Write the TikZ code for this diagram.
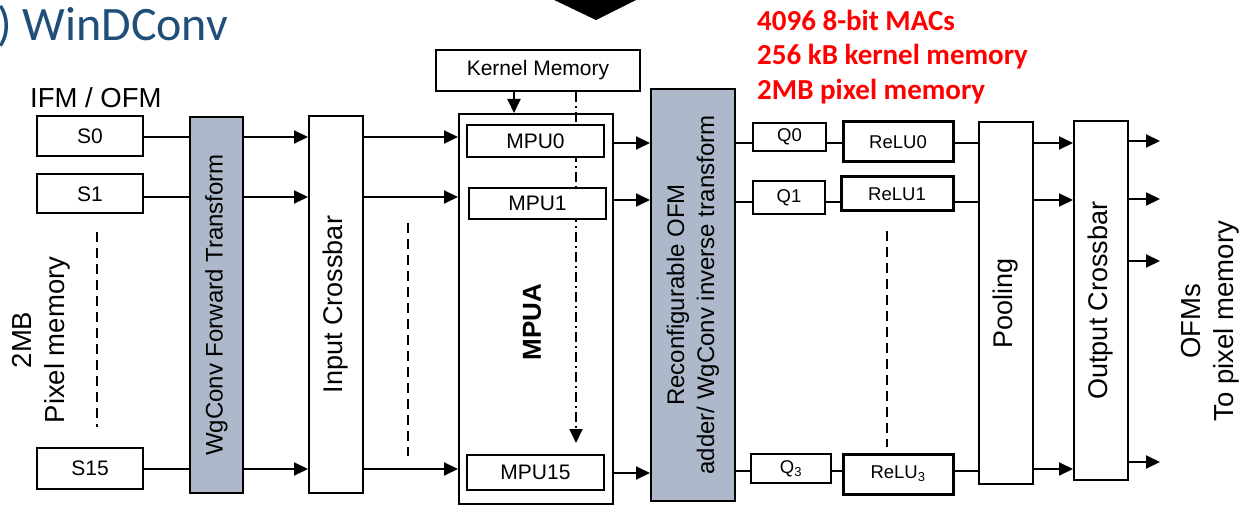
\documentclass[tikz,border=0pt]{standalone}
\usepackage{fontspec}
\setmainfont{Liberation Sans}
\newfontfamily\calfont{Carlito}
\usetikzlibrary{arrows.meta}
\definecolor{boxgray}{RGB}{173,185,202}
\definecolor{titleblue}{RGB}{31,78,121}
\definecolor{statred}{RGB}{255,0,0}
\begin{document}
\begin{tikzpicture}[x=1pt,y=-1pt,
  blk/.style={draw=black, line width=2pt, fill=white, inner sep=0pt, font=\fontsize{21}{25}\selectfont},
  graybar/.style={blk, fill=boxgray, font=\fontsize{24}{30}\selectfont},
  tallbox/.style={blk, font=\fontsize{27}{32}\selectfont},
  mpubox/.style={blk, line width=1.6pt},
  qbox/.style={blk, line width=1.4pt, font=\fontsize{18.5}{22}\selectfont},
  relubox/.style={blk, line width=3pt, font=\fontsize{18.5}{22}\selectfont},
  lbl/.style={inner sep=0pt, font=\fontsize{27.5}{33}\selectfont},
  stat/.style={anchor=base west, inner sep=0pt, text=statred, font=\calfont\bfseries\fontsize{29}{35}\selectfont},
  conn/.style={line width=2pt},
  arr/.style={line width=2pt, -{Triangle[length=14pt,width=13pt]}},
  dashln/.style={line width=2pt, dash pattern=on 10pt off 6pt},
]
\useasboundingbox (0,0) rectangle (1240,505);

% top black arrow head
\fill[black] (550,-2) -- (640,-2) -- (596,20) -- cycle;

% title and notes
\node[anchor=base west, inner sep=0pt, text=titleblue, font=\calfont\fontsize{48}{56}\selectfont] (title) at (-3,41) {) WinDConv};
\node[stat] (st1) at (757,31) {4096 8-bit MACs};
\node[stat] (st2) at (757,65) {256 kB kernel memory};
\node[stat] (st3) at (757,100) {2MB pixel memory};

\node[lbl, anchor=base west] (ifm) at (30,108) {IFM / OFM};
\node[lbl, rotate=90, align=center] (pixmem) at (41,340) {2MB\\Pixel memory};
\node[lbl, rotate=90, align=center] (ofms) at (1210,321) {OFMs\\To pixel memory};

% S boxes
\node[blk, minimum width=106pt, minimum height=40pt] (S0) at (90,136) {S0};
\node[blk, minimum width=106pt, minimum height=39pt] (S1) at (90,194) {S1};
\node[blk, minimum width=106pt, minimum height=41pt] (S15) at (90,468) {S15};
\draw[dashln] (97,232) -- (97,427);

% forward transform and input crossbar
\node[graybar, minimum width=53pt, minimum height=376pt] (WgF) at (216.5,305) {\rotatebox{90}{WgConv Forward Transform}};
\node[tallbox, minimum width=54pt, minimum height=377pt] (IC) at (336,304.5) {\rotatebox{90}{Input Crossbar}};
\draw[dashln] (408,223) -- (408,456);

% kernel memory and MPUA
\node[blk, minimum width=204pt, minimum height=41pt] (KM) at (538,70.5) {Kernel Memory};
\node[blk, minimum width=154pt, minimum height=390pt] (MPUA) at (536,309) {};
\node[inner sep=0pt, font=\bfseries\fontsize{26}{30}\selectfont, rotate=90] (mpual) at (532,322) {MPUA};
\coordinate (ddend) at (576,443);
\draw[line width=1.8pt, dash pattern=on 10pt off 4pt on 2pt off 4pt, -{Triangle[length=14pt,width=13pt]}] ([xshift=38pt]KM.south) -- (ddend);
\draw[arr] ([xshift=-24pt]KM.south) -- ([xshift=-24pt]KM.south |- MPUA.north);
\node[mpubox, minimum width=137pt, minimum height=32pt] (MPU0) at (535.5,141) {MPU0};
\node[mpubox, minimum width=137pt, minimum height=31pt] (MPU1) at (537.5,203.5) {MPU1};
\node[mpubox, minimum width=137pt, minimum height=35pt] (MPU15) at (535.5,472.5) {MPU15};

% reconfigurable adder
\node[graybar, minimum width=84pt, minimum height=412pt] (RC) at (693,295) {\rotatebox{90}{\begin{tabular}{@{}c@{}}Reconfigurable OFM\\adder/ WgConv inverse transform\end{tabular}}};

% Q and ReLU
\node[qbox, minimum width=73pt, minimum height=28pt] (Q0) at (789.5,137) {Q0};
\node[qbox, minimum width=72pt, minimum height=33pt] (Q1) at (789,197.5) {Q1};
\node[qbox, minimum width=80pt, minimum height=29pt] (Q3) at (791,468.5) {Q\textsubscript{3}};
\node[relubox, minimum width=110pt, minimum height=40pt] (R0) at (898,142) {ReLU0};
\node[relubox, minimum width=112pt, minimum height=34pt] (R1) at (897,194) {ReLU1};
\node[relubox, minimum width=110pt, minimum height=40pt] (R3) at (898,474) {\raisebox{-3pt}{ReLU\textsubscript{3}}};
\draw[dashln] (887,231) -- (887,447);

% pooling and output crossbar
\node[tallbox, minimum width=54pt, minimum height=362pt] (Pool) at (1006,303) {\rotatebox{90}{Pooling}};
\node[tallbox, minimum width=54pt, minimum height=359pt] (OC) at (1101,300.5) {\rotatebox{90}{Output Crossbar}};

% row coordinates
\coordinate (a0) at (0,137);
\coordinate (a1) at (0,197);
\coordinate (a15) at (0,469);
\coordinate (b0) at (0,143);
\coordinate (b1) at (0,200);
\coordinate (b15) at (0,473);
\coordinate (c0) at (0,143);
\coordinate (c1) at (0,202);
\coordinate (c3) at (0,471);
\coordinate (o0) at (1160,141);
\coordinate (o1) at (1160,199);
\coordinate (o2) at (1160,261);
\coordinate (o3) at (1160,462);

% S -> WgF
\draw[conn] (S0.east |- a0) -- (WgF.west |- a0);
\draw[conn] (S1.east |- a1) -- (WgF.west |- a1);
\draw[conn] (S15.east |- a15) -- (WgF.west |- a15);
% WgF -> IC
\draw[arr] (WgF.east |- a0) -- (IC.west |- a0);
\draw[arr] (WgF.east |- a1) -- (IC.west |- a1);
\draw[arr] (WgF.east |- a15) -- (IC.west |- a15);
% IC -> MPUA
\draw[arr] (IC.east |- a0) -- (MPUA.west |- a0);
\draw[arr] (IC.east |- a1) -- (MPUA.west |- a1);
\draw[arr] (IC.east |- a15) -- (MPUA.west |- a15);
% MPUA -> RC
\draw[arr] (MPUA.east |- b0) -- (RC.west |- b0);
\draw[arr] (MPUA.east |- b1) -- (RC.west |- b1);
\draw[arr] (MPUA.east |- b15) -- (RC.west |- b15);
% RC -> Q -> ReLU -> Pool
\draw[conn] (RC.east |- c0) -- (Q0.west |- c0);
\draw[conn] (RC.east |- c1) -- (Q1.west |- c1);
\draw[conn] (RC.east |- c3) -- (Q3.west |- c3);
\draw[conn] (Q0.east |- c0) -- (R0.west |- c0);
\draw[conn] (Q1.east |- c1) -- (R1.west |- c1);
\draw[conn] (Q3.east |- c3) -- (R3.west |- c3);
\draw[conn] (R0.east |- c0) -- (Pool.west |- c0);
\draw[conn] (R1.east |- c1) -- (Pool.west |- c1);
\draw[conn] (R3.east |- c3) -- (Pool.west |- c3);
% Pool -> OC
\draw[arr] (Pool.east |- c0) -- (OC.west |- c0);
\draw[arr] (Pool.east |- b1) -- (OC.west |- b1);
\draw[arr] (Pool.east |- a15) -- (OC.west |- a15);
% OC -> out
\draw[arr] (OC.east |- o0) -- (o0);
\draw[arr] (OC.east |- o1) -- (o1);
\draw[arr] (OC.east |- o2) -- (o2);
\draw[arr] (OC.east |- o3) -- (o3);
\end{tikzpicture}
\end{document}
